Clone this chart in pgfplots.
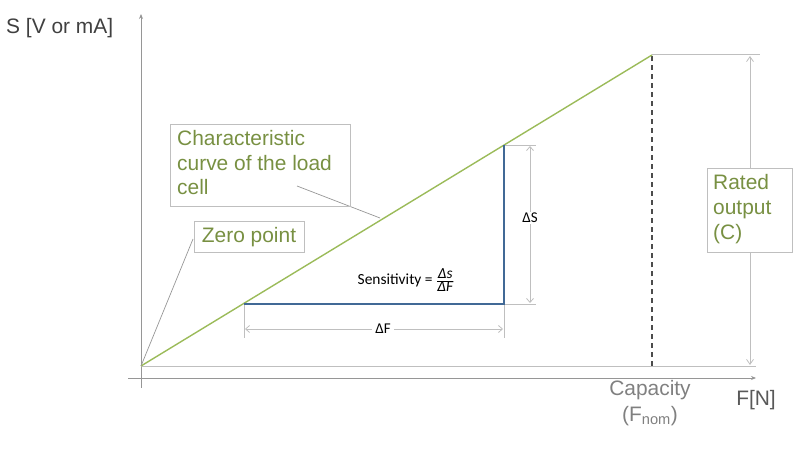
\documentclass[border=0pt]{standalone}
\usepackage{pgfplots}
\pgfplotsset{compat=1.18}
\usepackage{fontspec}
\setmainfont{Liberation Sans}
\newfontfamily\calib{Carlito}
\usetikzlibrary{arrows.meta}
\definecolor{curve}{RGB}{155,187,89}
\definecolor{olive}{RGB}{120,144,66}
\definecolor{lgray}{RGB}{191,191,191}
\definecolor{mgray}{RGB}{150,150,150}
\definecolor{bluel}{RGB}{65,105,150}
\begin{document}
\begin{tikzpicture}
\begin{axis}[scale only axis, width=797bp, height=451bp,
  xmin=0, xmax=797, ymin=0, ymax=451, axis lines=none, clip=false]
\path (rel axis cs:0,0) rectangle (rel axis cs:1,1);
% axes
\addplot[mgray, line width=0.9pt, -{Stealth[length=5pt,width=4pt]}] coordinates {(141,63) (141,437)};
\addplot[mgray, line width=0.9pt, -{Stealth[length=5pt,width=4pt]}] coordinates {(128,73) (756,73)};
% baseline and top line
\addplot[lgray, line width=1pt] coordinates {(141,85) (756,85)};
\addplot[lgray, line width=1pt] coordinates {(652,396) (760,396)};
% rated output arrow
\addplot[lgray, line width=0.8pt, {Straight Barb[length=5pt,width=7pt]}-{Straight Barb[length=5pt,width=7pt]}] coordinates {(750,86) (750,395)};
% dashed capacity
\addplot[black!70, line width=1.2pt, dash pattern=on 5pt off 4pt] coordinates {(652,85) (652,396)};
% characteristic curve
\addplot[curve, line width=1.4pt] coordinates {(141,85) (652,396)};
% sensitivity triangle
\addplot[bluel, line width=1.3pt] coordinates {(244,147) (504,147) (504,306)};
% dimension lines
\addplot[lgray, line width=0.8pt] coordinates {(505,306) (536,306)};
\addplot[lgray, line width=0.8pt] coordinates {(505,147) (536,147)};
\addplot[lgray, line width=0.8pt, {Straight Barb[length=4pt,width=7pt]}-{Straight Barb[length=4pt,width=7pt]}] coordinates {(530,148) (530,305)};
\addplot[lgray, line width=0.8pt] coordinates {(244,146) (244,113)};
\addplot[lgray, line width=0.8pt] coordinates {(504,146) (504,113)};
\addplot[lgray, line width=0.8pt, {Straight Barb[length=4pt,width=7pt]}-{Straight Barb[length=4pt,width=7pt]}] coordinates {(245,122) (503,122)};
% leaders
\addplot[mgray, line width=0.7pt] coordinates {(297,265) (380,233)};
\addplot[mgray, line width=0.7pt] coordinates {(193,212) (141,85)};
% boxes
\draw[lgray, line width=1pt, fill=white] (axis cs:707,198) rectangle (axis cs:792,282);
\draw[lgray, line width=1pt] (axis cs:170,244) rectangle (axis cs:350,326);
\draw[lgray, line width=1pt, fill=white] (axis cs:194,198) rectangle (axis cs:304,229);
% texts
\node[anchor=north west, align=left, text=olive, font=\fontsize{21}{24.5}\selectfont, inner sep=0pt] at (axis cs:177,320.5) {Characteristic\\curve of the load\\cell};
\node[anchor=center, text=olive, font=\fontsize{21}{24}\selectfont, inner sep=0pt] at (axis cs:249,213.5) {Zero point};
\node[anchor=north west, align=left, text=olive, font=\fontsize{21}{25}\selectfont, inner sep=0pt] at (axis cs:713,277) {Rated\\output\\(C)};
\node[anchor=west, text=black!75, font=\fontsize{21}{24}\selectfont, inner sep=0pt] at (axis cs:6,423) {S [V or mA]};
\node[anchor=center, text=black!50, font=\fontsize{21}{24}\selectfont, inner sep=0pt] at (axis cs:650,61) {Capacity};
\node[anchor=center, text=black!50, font=\fontsize{21}{24}\selectfont, inner sep=0pt] at (axis cs:650,35) {(F\textsubscript{nom})};
\node[anchor=center, text=black!65, font=\fontsize{21}{24}\selectfont, inner sep=0pt] at (axis cs:756,51) {F[N]};
\node[anchor=center, font=\calib\fontsize{15}{18}\selectfont, fill=white, inner sep=1pt] at (axis cs:530,233) {ΔS};
\node[anchor=center, font=\calib\fontsize{15}{18}\selectfont, fill=white, inner sep=3pt] at (axis cs:383,122) {ΔF};
\node[anchor=center, font=\calib\fontsize{15.5}{18}\selectfont, inner sep=0pt] at (axis cs:406,171) {Sensitivity = $\frac{\mbox{\calib\itshape Δs}}{\mbox{\calib\itshape ΔF}}$};
\end{axis}
\end{tikzpicture}
\end{document}
